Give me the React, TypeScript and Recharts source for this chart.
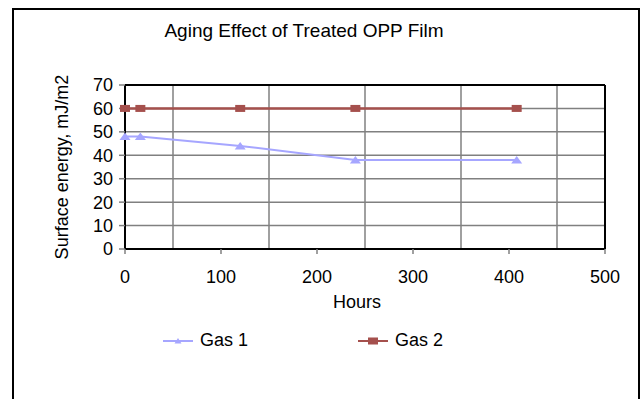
import React from 'react';
import {
  CartesianGrid,
  Customized,
  Legend,
  Line,
  LineChart,
  ReferenceLine,
  XAxis,
  YAxis,
} from 'recharts';

const hours = [0, 16, 120, 240, 408];
const gas1 = [48, 48, 44, 38, 38];
const gas2 = [60, 60, 60, 60, 60];
const xTicks = [0, 100, 200, 300, 400, 500];
const xGrid = [50, 150, 250, 350, 450];
const yTicks = [0, 10, 20, 30, 40, 50, 60, 70];

const data = hours.map((h, i) => ({ hours: h, gas1: gas1[i], gas2: gas2[i] }));

const FONT = '"Liberation Sans", Arial, sans-serif';
const GAS1 = '#a6a6ff';
const GAS2 = '#a5504d';

const Square = (props: any) => {
  const { cx, cy } = props;
  if (cx == null || cy == null) return null;
  return <rect x={cx - 5} y={cy - 3.5} width={10} height={7} fill={GAS2} />;
};

const Triangle = (props: any) => {
  const { cx, cy } = props;
  if (cx == null || cy == null) return null;
  return (
    <polygon
      points={`${cx},${cy - 4} ${cx - 5.5},${cy + 3.5} ${cx + 5.5},${cy + 3.5}`}
      fill={GAS1}
    />
  );
};

const LegendContent = () => (
  <div style={{ display: 'flex', fontFamily: FONT, fontSize: 18, color: '#000' }}>
    <div style={{ display: 'flex', alignItems: 'center', width: 195 }}>
      <svg width={30} height={14}>
        <line x1={0} x2={30} y1={7} y2={7} stroke={GAS1} strokeWidth={2} />
        <polygon points="15,4 11.5,9.5 18.5,9.5" fill={GAS1} />
      </svg>
      <span style={{ marginLeft: 7 }}>Gas 1</span>
    </div>
    <div style={{ display: 'flex', alignItems: 'center' }}>
      <svg width={30} height={14}>
        <line x1={0} x2={30} y1={7} y2={7} stroke={GAS2} strokeWidth={2} />
        <rect x={10} y={3.5} width={10} height={7} fill={GAS2} />
      </svg>
      <span style={{ marginLeft: 7 }}>Gas 2</span>
    </div>
  </div>
);

const Title = () => (
  <text x={304} y={37} textAnchor="middle" fontFamily={FONT} fontSize={19} fill="#000">
    Aging Effect of Treated OPP Film
  </text>
);

export default function App() {
  return (
    <div
      style={{
        position: 'fixed',
        left: 0,
        top: 0,
        width: 641,
        height: 399,
        overflow: 'hidden',
        background: '#fff',
      }}
    >
      <div
        style={{
          position: 'absolute',
          left: 12,
          top: 8,
          width: 628,
          height: 420,
          border: '2px solid #000',
          boxSizing: 'border-box',
        }}
      />
      <div style={{ position: 'absolute', left: 0, top: 0 }}>
        <LineChart
          width={641}
          height={399}
          data={data}
          margin={{ top: 85, right: 36, bottom: 90, left: 0 }}
          style={{ fontFamily: FONT }}
        >
          <CartesianGrid
            stroke="#808080"
            strokeWidth={1.5}
            verticalValues={xGrid}
            horizontalValues={[10, 20, 30, 40, 50, 60]}
          />
          <XAxis
            dataKey="hours"
            type="number"
            domain={[0, 500]}
            ticks={xTicks}
            interval={0}
            height={60}
            axisLine={{ stroke: '#000', strokeWidth: 2 }}
            tickLine={{ stroke: '#808080', strokeWidth: 1.5 }}
            tickSize={5}
            tickMargin={16}
            tick={{ fill: '#000', fontSize: 18 }}
            label={{
              value: 'Hours',
              position: 'insideBottom',
              offset: 1,
              dx: -8,
              fill: '#000',
              fontSize: 18,
            }}
          />
          <YAxis
            type="number"
            domain={[0, 70]}
            ticks={yTicks}
            interval={0}
            width={125}
            axisLine={{ stroke: '#000', strokeWidth: 2 }}
            tickLine={{ stroke: '#808080', strokeWidth: 1.5 }}
            tickSize={6}
            tickMargin={6}
            tick={{ fill: '#000', fontSize: 18 }}
            label={{
              value: 'Surface energy, mJ/m2',
              angle: -90,
              position: 'center',
              dx: -1,
              fill: '#000',
              fontSize: 18,
            }}
          />
          <ReferenceLine y={70} stroke="#000" strokeWidth={2} />
          <ReferenceLine x={500} stroke="#000" strokeWidth={2} />
          <Line
            dataKey="gas1"
            name="Gas 1"
            stroke={GAS1}
            strokeWidth={2}
            dot={<Triangle />}
            activeDot={false}
            isAnimationActive={false}
          />
          <Line
            dataKey="gas2"
            name="Gas 2"
            stroke={GAS2}
            strokeWidth={2.5}
            dot={<Square />}
            activeDot={false}
            isAnimationActive={false}
          />
          <Legend
            layout="horizontal"
            verticalAlign="middle"
            align="center"
            content={<LegendContent />}
            wrapperStyle={{ left: 163, top: 330, width: 320 }}
          />
          <Customized component={Title} />
        </LineChart>
      </div>
    </div>
  );
}
